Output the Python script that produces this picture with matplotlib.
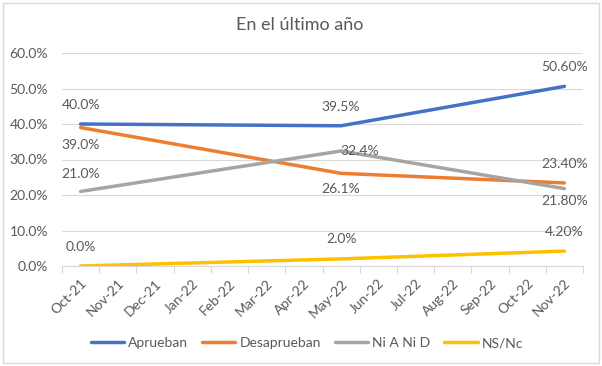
import matplotlib
matplotlib.use("Agg")
import matplotlib.pyplot as plt
from matplotlib.patches import Rectangle
from matplotlib.ticker import FuncFormatter, FixedLocator

plt.rcParams["font.family"] = ["Lato", "DejaVu Sans"]

# categorias del eje x
months = ["Oct-21", "Nov-21", "Dec-21", "Jan-22", "Feb-22", "Mar-22", "Apr-22",
          "May-22", "Jun-22", "Jul-22", "Aug-22", "Sep-22", "Oct-22", "Nov-22"]
# meses con medicion
survey_months = ["Oct-21", "May-22", "Nov-22"]
label_decimals = [1, 1, 2]

aprueban = [40.0, 39.5, 50.6]
desaprueban = [39.0, 26.1, 23.4]
ni_a_ni_d = [21.0, 32.4, 21.8]
ns_nc = [0.0, 2.0, 4.2]

series = [
    ("Aprueban", aprueban, "#4472C4", [(0, 19), (0, 19), (0, 19)]),
    ("Desaprueban", desaprueban, "#ED7D31", [(0, -17), (0, -16), (0, 19)]),
    ("Ni A Ni D", ni_a_ni_d, "#A5A5A5", [(0, 17), (19, 0), (0, -12)]),
    ("NS/Nc", ns_nc, "#FFC000", [(0, 19), (0, 20), (0, 19)]),
]

text_color = "#595959"
grid_color = "#D9D9D9"

fig = plt.figure(figsize=(6.02, 3.66), dpi=100)
ax = fig.add_axes([62 / 602, 1 - 266 / 366, (583 - 62) / 602, (266 - 53) / 366])

x = [months.index(m) for m in survey_months]
for name, vals, color, offsets in series:
    ax.plot(x, vals, color=color, lw=2.5, label=name, solid_capstyle="round", zorder=3)
    for xi, v, d, off in zip(x, vals, label_decimals, offsets):
        ax.annotate(f"{v:.{d}f}%", (xi, v), xytext=off, textcoords="offset pixels",
                    ha="center", va="center", fontsize=10, color=text_color, zorder=4)

ax.set_xlim(-0.5, len(months) - 0.5)
ax.set_ylim(0, 60)
ax.set_yticks(range(0, 61, 10))
ax.yaxis.set_major_formatter(FuncFormatter(lambda v, p: f"{v:.1f}%"))
ax.set_xticks(range(len(months)))
ax.set_xticklabels(months, rotation=45, ha="right", rotation_mode="anchor")
ax.xaxis.set_minor_locator(FixedLocator([i - 0.5 for i in range(len(months) + 1)]))
ax.tick_params(axis="x", which="major", length=0, pad=8, labelsize=10, labelcolor=text_color)
ax.tick_params(axis="x", which="minor", length=5, color=grid_color, width=0.8)
ax.tick_params(axis="y", length=0, pad=10, labelsize=10, labelcolor=text_color)
ax.grid(axis="y", color=grid_color, lw=0.8)
ax.set_axisbelow(True)
for s in ["top", "right", "left"]:
    ax.spines[s].set_visible(False)
ax.spines["bottom"].set_color(grid_color)
ax.spines["bottom"].set_linewidth(0.8)

fig.text(300 / 602, 1 - 25 / 366, "En el último año", ha="center", va="center",
         fontsize=13, color=text_color)

fig.legend(loc="center", bbox_to_anchor=(307 / 602, 1 - 343 / 366), ncol=4, frameon=False,
           fontsize=10, labelcolor=text_color, handlelength=2.4, handletextpad=0.3,
           columnspacing=1.0)

fig.patches.append(Rectangle((3 / 602, 3 / 366), 596 / 602, 360 / 366, transform=fig.transFigure,
                             fill=False, edgecolor=grid_color, lw=1))

fig.savefig("out.png", dpi=100)
